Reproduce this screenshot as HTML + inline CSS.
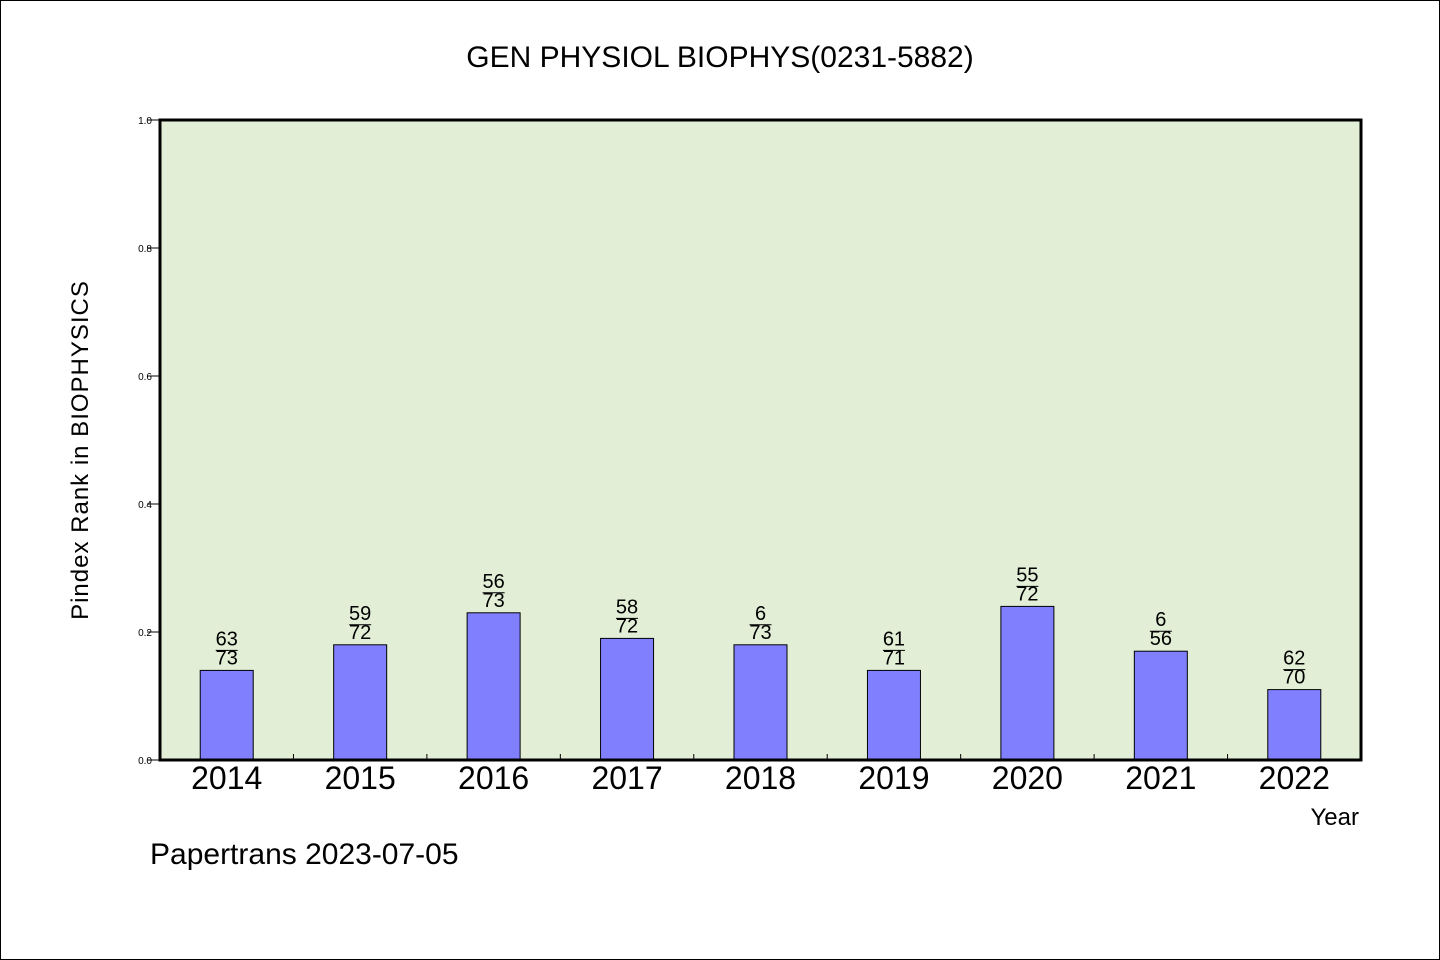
<!DOCTYPE html>
<html><head><meta charset="utf-8"><style>
html,body{margin:0;padding:0;background:#fff}
svg{display:block}
text{font-family:"Liberation Sans","WenQuanYi Zen Hei",sans-serif;fill:#000}
</style></head><body>
<svg id="chart" width="1440" height="960" xmlns="http://www.w3.org/2000/svg">
<rect x="0.5" y="0.5" width="1439" height="959" fill="#fff" stroke="#000"/>
<text x="720" y="67" text-anchor="middle" font-size="30">GEN PHYSIOL BIOPHYS(0231-5882)</text>
<rect x="160" y="120" width="1201" height="640" fill="#e2efd6"/>
<g id="yaxis"></g>
<g id="bars"></g>
<rect x="160" y="120" width="1201" height="640" fill="none" stroke="#000" stroke-width="3"/>
<text transform="translate(88,450) rotate(-90)" text-anchor="middle" font-size="24" letter-spacing="1">Pindex Rank in BIOPHYSICS</text>
<text x="1359" y="825" text-anchor="end" font-size="24">Year</text>
<text x="150" y="864" font-size="30">Papertrans 2023-07-05</text>
</svg>
<script>
const years=["2014","2015","2016","2017","2018","2019","2020","2021","2022"];
const values=[0.14,0.18,0.23,0.19,0.18,0.14,0.24,0.17,0.11];
const ranks=["63","59","56","58","6","61","55","6","62"];
const totals=["73","72","73","72","73","71","72","56","70"];
const yTicks=[0,0.2,0.4,0.6,0.8,1.0];
const NS="http://www.w3.org/2000/svg";
const x0=160,x1=1361,y0=760,y1=120;
const band=(x1-x0)/years.length;
const xc=i=>x0+band*(i+0.5);
const ys=v=>y0-(v)*(y0-y1);
function mk(t,a,p){const e=document.createElementNS(NS,t);for(const k in a)e.setAttribute(k,a[k]);p.appendChild(e);return e;}
const ya=document.getElementById('yaxis'),bg=document.getElementById('bars');
yTicks.forEach(v=>{
 const l=mk('line',{x1:147,x2:160,y1:ys(v),y2:ys(v),stroke:'#000'},ya);
 
 
 const t=mk('text',{x:152,y:ys(v)+4,'text-anchor':'end','font-size':10},ya);
 t.textContent=v.toFixed(1);
 
 
});
for(let i=1;i<years.length;i++){
 const l=mk('line',{x1:x0+band*i,x2:x0+band*i,y1:y0,y2:y0-6,stroke:'#000'},ya);
 
 
}
years.forEach((y,i)=>{
 const cx=xc(i),top=ys(values[i]);
 const r=mk('rect',{x:cx-26.5,y:top,width:53,height:y0-top,fill:'#8080ff',stroke:'#000','stroke-width':1},bg);
 
 
 const a=mk('text',{x:cx,y:top-25,'text-anchor':'middle','font-size':20},bg);
 a.textContent=ranks[i];
 
 
 const ln=mk('line',{x1:cx-11,x2:cx+11,y1:top-20,y2:top-20,stroke:'#000','stroke-width':1},bg);
 
 
 const b=mk('text',{x:cx,y:top-6,'text-anchor':'middle','font-size':20},bg);
 b.textContent=totals[i];
 
 
 const xl=mk('text',{x:cx,y:789,'text-anchor':'middle','font-size':32},bg);
 xl.textContent=y;
 
 
});
</script>
</body></html>
